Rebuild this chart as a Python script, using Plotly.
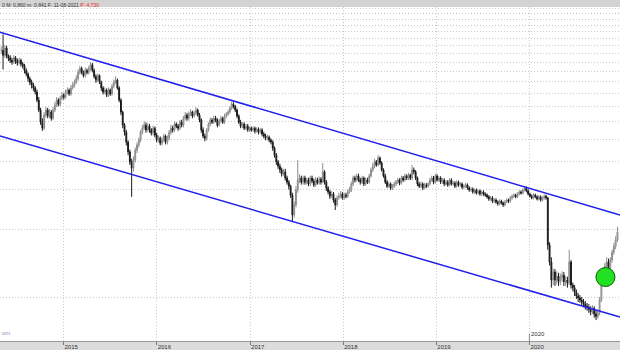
import pandas as pd
import plotly.graph_objects as go

# ---- data (weekly bars; log price scale) ----
closes = [
    12.4, 11.8, 12.7, 11.7, 11.5, 11.2, 11.0, 11.5, 11.1, 10.9,
    11.2, 10.8, 10.6, 10.1, 9.75, 9.3, 8.95, 8.7, 8.45, 8.1,
    7.46, 6.74, 5.96, 5.6, 6.4, 6.74, 6.35, 6.6, 6.2, 6.74,
    7.1, 7.46, 7.15, 7.6, 7.85, 7.7, 8.1, 8.27, 7.95, 8.45,
    8.7, 8.95, 9.3, 9.9, 10.3, 9.9, 9.6, 10.1, 9.9, 10.3,
    10.7, 10.1, 9.5, 9.15, 9.6, 8.95, 8.45, 8.1, 8.27, 7.85,
    8.27, 7.95, 8.6, 8.95, 9.15, 8.45, 7.46, 6.6, 5.78, 5.38,
    4.86, 4.4, 3.97, 3.73, 4.05, 4.48, 4.72, 4.96, 5.38, 5.6,
    5.78, 5.5, 5.72, 5.5, 5.33, 5.6, 5.22, 4.96, 5.06, 4.81,
    4.96, 5.17, 4.86, 5.06, 5.38, 5.6, 5.5, 5.84, 5.72, 5.6,
    5.96, 5.78, 6.2, 6.4, 6.2, 6.47, 6.6, 6.35, 6.55, 6.74,
    6.4, 6.09, 5.5, 5.17, 5.06, 5.5, 5.84, 6.09, 5.96, 6.2,
    6.09, 5.78, 6.02, 6.2, 5.96, 6.35, 6.47, 6.6, 6.87, 7.15,
    7.0, 6.74, 6.35, 5.96, 5.72, 5.84, 5.6, 5.72, 5.5, 5.6,
    5.5, 5.6, 5.44, 5.55, 5.38, 5.5, 5.28, 5.17, 5.06, 5.12,
    4.96, 4.86, 4.57, 4.26, 3.97, 3.8, 3.66, 3.51, 3.59, 3.37,
    3.23, 3.1, 2.83, 2.31, 2.56, 2.98, 3.30, 3.37, 3.23, 3.37,
    3.23, 3.30, 3.17, 3.37, 3.27, 3.14, 3.30, 3.20, 3.33, 3.23,
    3.59, 3.23, 3.04, 2.92, 2.80, 2.86, 2.69, 2.56, 2.75, 2.80,
    2.86, 2.75, 2.83, 2.80, 2.92, 2.98, 3.17, 3.37, 3.30, 3.44,
    3.30, 3.23, 3.37, 3.17, 3.30, 3.23, 3.44, 3.66, 3.80, 3.97,
    3.85, 4.13, 3.93, 3.66, 3.44, 3.23, 3.10, 3.17, 3.04, 3.10,
    3.17, 3.23, 3.30, 3.20, 3.37, 3.30, 3.44, 3.37, 3.47, 3.37,
    3.66, 3.59, 3.37, 3.17, 3.10, 3.17, 3.04, 3.14, 3.10, 3.17,
    3.30, 3.37, 3.23, 3.44, 3.30, 3.37, 3.23, 3.30, 3.17, 3.23,
    3.14, 3.30, 3.17, 3.20, 3.10, 3.23, 3.14, 3.17, 3.07, 3.10,
    3.14, 3.04, 2.98, 3.01, 2.92, 2.98, 2.89, 2.95, 2.86, 2.92,
    2.86, 2.83, 2.78, 2.72, 2.75, 2.66, 2.69, 2.64, 2.59, 2.66,
    2.61, 2.56, 2.64, 2.69, 2.66, 2.75, 2.80, 2.83, 2.78, 2.86,
    2.92, 2.89, 2.98, 3.04, 2.95, 2.86, 2.80, 2.75, 2.83, 2.78,
    2.72, 2.78, 2.69, 2.75, 2.80, 2.75, 1.70, 1.43, 1.19, 1.29,
    1.19, 1.24, 1.17, 1.22, 1.25, 1.17, 1.19, 1.15, 1.43, 1.13,
    1.10, 1.05, 1.01, 0.99, 0.97, 0.95, 0.93, 0.91, 0.90, 0.88,
    0.86, 0.89, 0.84, 0.82, 0.85, 0.97, 1.17, 1.29, 1.37, 1.43,
    1.35, 1.46, 1.58, 1.68, 1.79, 1.94,
]
highs = [
    12.9, 14.6, 13.1, 13.0, 11.9, 11.8, 11.5, 11.8, 11.7, 11.4,
    11.5, 11.4, 11.0, 10.8, 10.3, 9.9, 9.5, 9.2, 8.9, 8.6,
    8.3, 7.7, 6.9, 6.2, 6.6, 6.95, 6.9, 6.8, 6.75, 6.95,
    7.3, 7.7, 7.6, 7.8, 8.1, 8.0, 8.3, 8.5, 8.4, 8.7,
    8.95, 9.2, 9.6, 10.2, 10.6, 10.5, 10.1, 10.4, 10.3, 10.6,
    11.0, 10.9, 10.3, 9.7, 9.8, 9.7, 9.1, 8.6, 8.5, 8.4,
    8.5, 8.4, 8.8, 9.2, 9.5, 9.3, 8.6, 7.6, 6.7, 5.9,
    5.5, 4.95, 4.5, 4.1, 4.2, 4.6, 4.85, 5.1, 5.5, 5.8,
    6.0, 5.95, 5.9, 5.85, 5.6, 5.75, 5.7, 5.35, 5.2, 5.15,
    5.1, 5.3, 5.25, 5.2, 5.5, 5.8, 5.75, 6.0, 5.95, 5.85,
    6.1, 6.1, 6.35, 6.6, 6.55, 6.65, 6.8, 6.7, 6.7, 6.95,
    6.85, 6.55, 6.2, 5.65, 5.3, 5.6, 5.95, 6.25, 6.2, 6.35,
    6.35, 6.2, 6.15, 6.35, 6.3, 6.5, 6.6, 6.75, 7.0, 7.35,
    7.3, 7.1, 6.85, 6.45, 6.1, 5.95, 5.95, 5.85, 5.85, 5.7,
    5.7, 5.7, 5.7, 5.65, 5.65, 5.6, 5.6, 5.4, 5.3, 5.25,
    5.2, 5.05, 4.95, 4.65, 4.35, 4.05, 3.9, 3.75, 3.7, 3.7,
    3.45, 3.3, 3.15, 2.9, 2.65, 3.1, 4.05, 3.5, 3.45, 3.45,
    3.45, 3.38, 3.38, 3.45, 3.45, 3.35, 3.4, 3.38, 3.42, 3.4,
    3.93, 3.65, 3.3, 3.1, 2.98, 2.95, 2.92, 2.75, 2.82, 2.9,
    2.95, 2.92, 2.9, 2.9, 3.0, 3.08, 3.25, 3.45, 3.45, 3.52,
    3.52, 3.38, 3.45, 3.42, 3.38, 3.38, 3.52, 3.75, 3.92, 4.1,
    4.05, 4.25, 4.2, 4.0, 3.72, 3.52, 3.3, 3.25, 3.22, 3.17,
    3.25, 3.3, 3.38, 3.36, 3.45, 3.44, 3.52, 3.5, 3.55, 3.52,
    3.85, 3.75, 3.65, 3.42, 3.23, 3.25, 3.22, 3.2, 3.2, 3.24,
    3.38, 3.45, 3.44, 3.52, 3.5, 3.44, 3.43, 3.37, 3.36, 3.3,
    3.3, 3.36, 3.36, 3.27, 3.26, 3.29, 3.28, 3.23, 3.22, 3.16,
    3.2, 3.19, 3.1, 3.07, 3.06, 3.03, 3.03, 3.0, 3.0, 2.97,
    2.97, 2.91, 2.88, 2.83, 2.8, 2.8, 2.74, 2.74, 2.68, 2.71,
    2.7, 2.65, 2.69, 2.74, 2.73, 2.8, 2.85, 2.88, 2.87, 2.91,
    2.97, 2.97, 3.03, 3.1, 3.09, 3.0, 2.9, 2.85, 2.88, 2.87,
    2.82, 2.83, 2.82, 2.79, 2.85, 2.84, 2.78, 1.75, 1.5, 1.34,
    1.33, 1.3, 1.28, 1.27, 1.3, 1.29, 1.24, 1.23, 1.62, 1.46,
    1.16, 1.13, 1.08, 1.04, 1.02, 1.0, 0.98, 0.96, 0.94, 0.93,
    0.91, 0.92, 0.91, 0.87, 0.88, 1.0, 1.2, 1.34, 1.42, 1.5,
    1.48, 1.5, 1.62, 1.74, 1.86, 2.05,
]
lows = [
    12.0, 10.2, 11.5, 11.4, 11.1, 10.9, 10.7, 10.8, 10.8, 10.6,
    10.7, 10.5, 10.3, 9.8, 9.5, 9.0, 8.7, 8.4, 8.2, 7.9,
    7.3, 6.6, 5.8, 5.45, 5.5, 6.25, 6.2, 6.2, 6.05, 6.1,
    6.6, 6.95, 7.0, 7.0, 7.45, 7.5, 7.55, 7.9, 7.8, 7.8,
    8.3, 8.5, 8.8, 9.1, 9.7, 9.7, 9.4, 9.4, 9.7, 9.7,
    10.1, 9.9, 9.3, 8.9, 9.0, 8.8, 8.2, 7.9, 7.95, 7.7,
    7.7, 7.8, 7.8, 8.4, 8.8, 8.3, 7.3, 6.4, 5.6, 5.2,
    4.7, 4.25, 3.85, 2.78, 3.6, 3.95, 4.35, 4.6, 4.85, 5.25,
    5.5, 5.35, 5.4, 5.35, 5.2, 5.2, 5.1, 4.85, 4.85, 4.7,
    4.7, 4.85, 4.75, 4.75, 4.95, 5.25, 5.35, 5.4, 5.6, 5.45,
    5.5, 5.65, 5.65, 6.05, 6.05, 6.05, 6.35, 6.2, 6.25, 6.4,
    6.3, 5.95, 5.35, 5.05, 4.9, 4.95, 5.4, 5.7, 5.85, 5.85,
    5.95, 5.65, 5.7, 5.9, 5.85, 5.85, 6.2, 6.35, 6.5, 6.75,
    6.85, 6.6, 6.2, 5.85, 5.6, 5.6, 5.5, 5.5, 5.4, 5.4,
    5.4, 5.4, 5.3, 5.35, 5.25, 5.3, 5.15, 5.05, 4.95, 4.95,
    4.85, 4.75, 4.45, 4.15, 3.85, 3.7, 3.55, 3.42, 3.45, 3.28,
    3.15, 3.0, 2.75, 2.15, 2.25, 2.5, 2.9, 3.2, 3.15, 3.15,
    3.15, 3.15, 3.1, 3.1, 3.2, 3.07, 3.08, 3.15, 3.15, 3.15,
    3.2, 3.15, 2.95, 2.85, 2.72, 2.75, 2.62, 2.43, 2.52, 2.7,
    2.74, 2.7, 2.7, 2.74, 2.75, 2.88, 2.92, 3.1, 3.22, 3.24,
    3.24, 3.15, 3.17, 3.1, 3.12, 3.17, 3.18, 3.38, 3.58, 3.72,
    3.78, 3.8, 3.85, 3.6, 3.38, 3.17, 3.04, 3.05, 2.98, 2.98,
    3.04, 3.1, 3.17, 3.13, 3.15, 3.24, 3.25, 3.3, 3.3, 3.3,
    3.3, 3.5, 3.3, 3.1, 3.04, 3.05, 2.98, 3.0, 3.04, 3.05,
    3.12, 3.24, 3.16, 3.18, 3.25, 3.24, 3.17, 3.18, 3.1, 3.12,
    3.08, 3.1, 3.12, 3.12, 3.04, 3.05, 3.08, 3.08, 3.01, 3.01,
    3.04, 2.99, 2.93, 2.93, 2.87, 2.87, 2.84, 2.85, 2.81, 2.81,
    2.81, 2.78, 2.73, 2.67, 2.67, 2.61, 2.61, 2.59, 2.54, 2.55,
    2.57, 2.51, 2.52, 2.6, 2.61, 2.62, 2.7, 2.75, 2.74, 2.74,
    2.82, 2.85, 2.85, 2.94, 2.91, 2.82, 2.76, 2.71, 2.71, 2.74,
    2.68, 2.68, 2.65, 2.65, 2.7, 2.7, 1.62, 1.38, 1.1, 1.13,
    1.12, 1.14, 1.12, 1.13, 1.17, 1.12, 1.12, 1.1, 1.13, 1.09,
    1.06, 1.01, 0.98, 0.95, 0.94, 0.92, 0.9, 0.88, 0.87, 0.85,
    0.83, 0.84, 0.81, 0.79, 0.8, 0.83, 0.95, 1.13, 1.26, 1.33,
    1.3, 1.32, 1.42, 1.54, 1.63, 1.75,
]
first_week = "2014-05-02"

# channel lines (two end points each)
channel_dates = ["2014-04-27", "2020-12-21"]
upper_channel = [14.94, 2.31]
lower_channel = [5.17, 0.815]

# highlighted point
marker_date = ["2020-10-25"]
marker_price = [1.226]

year_ticks = ["2015-01-01", "2016-01-01", "2017-01-01", "2018-01-01", "2019-01-01", "2020-01-01"]
year_labels = ["2015", "2016", "2017", "2018", "2019", "2020"]
price_grid = list(range(1, 20))

header_text = "0 M: 0,860 m: 0,841 F: 11-08-2021 "
header_price = "P: 4,730"

# ---- build ----
n = min(len(closes), len(highs), len(lows))
closes, highs, lows = closes[:n], highs[:n], lows[:n]
opens = [closes[0]] + closes[:-1]
dates = pd.date_range(first_week, periods=n, freq="7D")

fig = go.Figure()
fig.add_trace(go.Candlestick(
    x=dates, open=opens, high=highs, low=lows, close=closes,
    increasing=dict(line=dict(color="#8c8c8c", width=1), fillcolor="#c4c4c4"),
    decreasing=dict(line=dict(color="#1a1a1a", width=1), fillcolor="#1a1a1a"),
    whiskerwidth=0, showlegend=False, hoverinfo="skip",
))
for ys in (upper_channel, lower_channel):
    fig.add_trace(go.Scatter(x=channel_dates, y=ys, mode="lines",
                             line=dict(color="#1f1fef", width=1.5),
                             showlegend=False, hoverinfo="skip"))
fig.add_trace(go.Scatter(x=marker_date, y=marker_price, mode="markers",
                         marker=dict(size=19, color="#22e022",
                                     line=dict(color="#0b5e0b", width=1)),
                         showlegend=False, hoverinfo="skip"))

grid = dict(showgrid=True, gridcolor="#c9c9c9", griddash="1px,2px", gridwidth=1)

fig.update_layout(
    width=620, height=350,
    margin=dict(l=0, r=0, t=7, b=9),
    paper_bgcolor="white", plot_bgcolor="white",
    font=dict(family="Liberation Sans, Arial, sans-serif", size=6, color="#333"),
    xaxis=dict(
        type="date", range=["2014-04-27", "2020-12-21"],
        rangeslider=dict(visible=False),
        tickvals=year_ticks, ticktext=year_labels,
        ticks="outside", ticklen=3, tickcolor="#777",
        ticklabelposition="outside right",
        tickfont=dict(size=6, color="#333"),
        showline=True, linecolor="#9a9a9a", linewidth=1,
        zeroline=False, fixedrange=True, **grid,
    ),
    yaxis=dict(
        type="log", range=[-0.195, 1.2856],
        tickvals=price_grid, showticklabels=False, ticks="",
        zeroline=False, showline=False, fixedrange=True, **grid,
    ),
    shapes=[
        dict(type="rect", xref="paper", yref="paper", x0=0, x1=1, y0=1, y1=1.05,
             fillcolor="#d3d3d3", line=dict(width=0), layer="below"),
        dict(type="rect", xref="paper", yref="paper", x0=0, x1=1, y0=-0.05, y1=0,
             fillcolor="#dcdcdc", line=dict(width=0), layer="below"),
        dict(type="line", xref="x", yref="paper", x0="2020-01-01", x1="2020-01-01",
             y0=-0.012, y1=0.022, line=dict(color="#888", width=1)),
    ],
    annotations=[
        dict(xref="paper", yref="paper", x=0, y=1.021, xanchor="left", yanchor="top",
             showarrow=False, text=header_text + "<span style='color:#ee2222'>" + header_price + "</span>",
             font=dict(size=5, color="#333")),
        dict(xref="paper", yref="paper", x=0, y=0.01, xanchor="left", yanchor="bottom",
             showarrow=False, text="om", font=dict(size=6, color="#8a8ad0")),
        dict(xref="x", yref="paper", x="2020-01-01", y=0.005, xanchor="left", yanchor="bottom",
             showarrow=False, text="2020", font=dict(size=6, color="#333")),
    ],
)

fig.write_html("out.html")
